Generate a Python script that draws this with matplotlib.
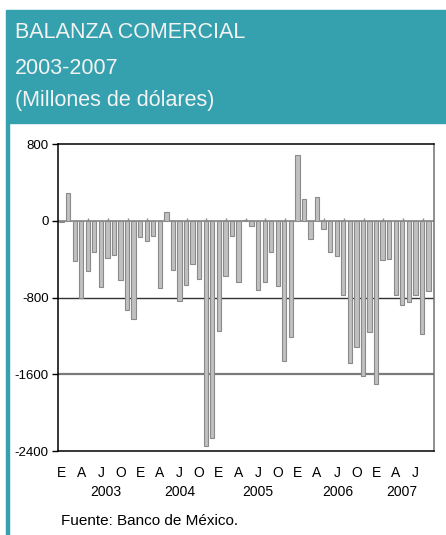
import numpy as np
import matplotlib
matplotlib.use("Agg")
import matplotlib.pyplot as plt
from matplotlib.patches import Rectangle
from matplotlib.transforms import blended_transform_factory

plt.rcParams['font.family'] = ['Liberation Sans', 'DejaVu Sans']

# monthly trade balance, Jan 2003 - Sep 2007 (millions of dollars)
balance = [
    -15, 289, -417, -807, -525, -320, -685, -390, -358, -612, -932, -1026,
    -163, -212, -153, -699, 94, -515, -831, -668, -445, -610, -2351, -2261,
    -1151, -569, -159, -634, 15, -55, -717, -635, -328, -677, -1457, -1210,
    690, 228, -190, 255, -83, -328, -362, -776, -1482, -1318, -1614, -1162,
    -1701, -410, -393, -776, -873, -848, -772, -1179, -727,
]
month_letters = ['E', 'A', 'J', 'O']
years = ['2003', '2004', '2005', '2006', '2007']
year_pos = [6.75, 18.1, 30.0, 42.2, 51.9]
y_ticks = [800, 0, -800, -1600, -2400]

teal = '#35a1af'
W, H = 446, 535

fig = plt.figure(figsize=(W / 100, H / 100), dpi=100)
fig.patch.set_facecolor('white')

# header block and left strip
fig.patches.append(Rectangle((6 / W, 1 - 123 / H), 1 - 6 / W, 113 / H,
                             transform=fig.transFigure, color=teal, zorder=0))
fig.patches.append(Rectangle((6 / W, 0), 3 / W, 1 - 123 / H,
                             transform=fig.transFigure, color=teal, zorder=0))

title_lines = ['BALANZA COMERCIAL', '2003-2007', '(Millones de dólares)']
baselines = [38.5, 74, 106.5]
for txt, b in zip(title_lines, baselines):
    fig.text(15 / W, 1 - b / H, txt, color='#f3f3f3', fontsize=15.5,
             va='baseline', ha='left')

ax = fig.add_axes([58.3 / W, 1 - 451 / H, (433.7 - 58.3) / W, (451 - 144.3) / H])
x = np.arange(len(balance))

ax.axhline(-800, color='#333333', lw=1.0, zorder=1)
ax.axhline(-1600, color='#7a7a7a', lw=1.6, zorder=1)
ax.axhline(0, color='#8c8c8c', lw=1.3, zorder=1)
ax.vlines(np.arange(4, len(balance), 3) + 0.1, 0, 35, color='#8c8c8c', lw=1, zorder=1)

ax.bar(x, balance, width=0.66, color='#c0c0c0', edgecolor='#8a8a8a',
       linewidth=0.8, zorder=2)

ax.set_xlim(-0.5, 56.8)
ax.set_ylim(-2400, 800)
ax.set_yticks(y_ticks)
ax.set_yticklabels([str(v) for v in y_ticks], fontsize=9.5)
ax.tick_params(axis='y', length=4, width=1, pad=3, colors='black')

xt = np.arange(0, len(balance) - 2, 3)
ax.set_xticks(xt)
ax.set_xticklabels([month_letters[(i // 3) % 4] for i in xt], fontsize=10)
ax.tick_params(axis='x', length=0, pad=10.5)

for s in ['left', 'top', 'bottom']:
    ax.spines[s].set_color('black')
    ax.spines[s].set_linewidth(1.1)
ax.spines['right'].set_color('#707070')
ax.spines['right'].set_linewidth(1.1)

trans = blended_transform_factory(ax.transData, ax.transAxes)
for yr, p in zip(years, year_pos):
    ax.text(p, -45 / 306.7, yr, transform=trans, ha='center', va='baseline', fontsize=10)

fig.text(61 / W, 1 - 525 / H, 'Fuente: Banco de México.', fontsize=11, ha='left', va='baseline')

fig.savefig('out.png', dpi=100)
